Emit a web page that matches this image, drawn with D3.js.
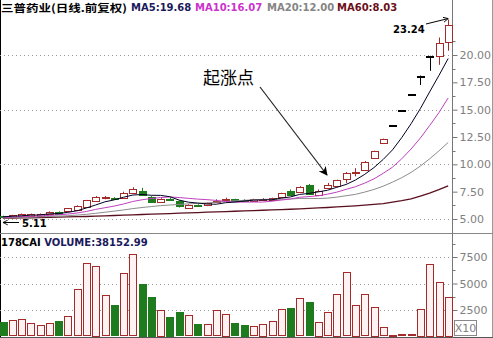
<!DOCTYPE html>
<html>
<head>
<meta charset="utf-8">
<script src="https://cdn.jsdelivr.net/npm/d3@7"></script>
<style>
  body { margin: 0; background: #fff; }
  svg { display: block; }
</style>
</head>
<body>
<svg id="chart"></svg>
<script>
var W = 493, H = 338;

// daily candles
var opens  = [5.25,5.18,5.27,5.30,5.30,5.43,5.65,5.67,5.82,6.03,6.60,6.93,6.92,6.95,7.35,7.60,7.05,6.55,6.86,6.65,
              6.00,6.25,6.22,6.60,6.72,6.80,6.75,6.66,6.75,6.75,6.95,7.60,7.45,8.10,7.20,7.85,8.00,8.70,9.20,9.50,
              10.55,11.95,13.60,14.97,16.47,18.12,19.93,19.90,21.20];
var closes = [5.15,5.33,5.45,5.45,5.45,5.65,5.50,5.98,6.19,6.71,7.00,6.97,6.88,7.40,7.70,7.25,6.62,6.85,6.80,6.15,
              6.30,6.20,6.42,6.68,6.85,6.60,6.66,6.80,6.86,6.90,7.35,7.20,7.95,7.30,7.60,8.10,8.55,9.25,9.30,10.20,
              11.20,12.30,13.60,14.97,16.47,18.12,19.93,21.10,22.75];
var highs  = [5.30,5.38,5.50,5.50,5.50,5.70,5.70,6.00,6.25,6.75,7.10,7.10,7.00,7.50,7.90,7.85,7.10,6.90,6.95,6.70,
              6.35,6.35,6.50,6.80,6.95,6.85,6.80,6.85,6.90,6.95,7.40,7.70,8.00,8.20,7.70,8.30,8.60,9.30,9.65,10.30,
              11.25,12.35,13.60,14.97,16.47,18.12,19.93,21.60,23.24];
var lows   = [5.11,5.14,5.22,5.25,5.25,5.40,5.45,5.62,5.78,6.00,6.55,6.80,6.80,6.90,7.30,7.20,6.50,6.50,6.70,6.05,
              5.95,6.10,6.18,6.55,6.65,6.55,6.60,6.60,6.70,6.70,6.90,7.10,7.40,7.20,7.10,7.80,7.90,8.30,8.90,9.45,
              10.50,11.90,13.60,14.97,16.47,17.26,18.55,19.10,20.40];
// volume in units of 10
var volumes = [1360,1520,1620,1270,1080,1240,1460,1930,4480,6920,6670,3900,2950,5970,7780,4980,3750,2540,1840,2290,
               2000,1170,1140,2480,2160,1270,1110,990,1180,1460,2590,2690,3630,3250,1370,2310,4030,6040,3000,3970,
               2830,870,140,230,230,2620,6860,5160,3770];
var ma5  = [5.20,5.25,5.30,5.35,5.37,5.47,5.50,5.61,5.75,6.01,6.28,6.57,6.75,6.99,7.19,7.24,7.17,7.16,7.04,6.73,
            6.54,6.46,6.37,6.35,6.49,6.55,6.64,6.72,6.75,6.76,6.91,7.02,7.25,7.34,7.48,7.63,7.90,8.16,8.56,9.08,
            9.70,10.45,11.32,12.45,13.71,15.09,16.62,18.12,19.68];
var ma10 = [5.15,5.18,5.22,5.25,5.28,5.33,5.38,5.45,5.55,5.69,5.88,6.03,6.18,6.37,6.60,6.76,6.87,6.96,7.02,6.96,
            6.89,6.82,6.77,6.70,6.61,6.55,6.55,6.55,6.55,6.63,6.73,6.83,6.99,7.05,7.12,7.27,7.46,7.71,7.95,8.28,
            8.67,9.18,9.74,10.51,11.40,12.40,13.54,14.72,16.07];
var ma20 = [5.10,5.12,5.15,5.17,5.20,5.23,5.26,5.30,5.36,5.43,5.52,5.62,5.72,5.83,5.95,6.05,6.14,6.22,6.28,6.33,
            6.38,6.43,6.47,6.54,6.60,6.66,6.71,6.76,6.79,6.80,6.81,6.83,6.88,6.88,6.87,6.91,7.00,7.13,7.25,7.46,
            7.70,8.00,8.37,8.78,9.26,9.84,10.50,11.22,12.00];
var ma60 = [5.08,5.09,5.10,5.11,5.13,5.15,5.17,5.19,5.21,5.23,5.26,5.29,5.32,5.35,5.38,5.41,5.44,5.47,5.50,5.53,
            5.56,5.59,5.62,5.65,5.68,5.71,5.74,5.77,5.80,5.83,5.86,5.89,5.93,5.97,6.01,6.05,6.10,6.15,6.20,6.26,
            6.33,6.41,6.55,6.68,6.85,7.10,7.37,7.68,8.03];

var priceTicks = [5, 7.5, 10, 12.5, 15, 17.5, 20];
var priceGrid = [5, 10, 15, 20];
var volTicks = [2500, 5000, 7500];

var axisX = 452;
var svg = d3.select("#chart").attr("width", W).attr("height", H);

var x = d3.scaleBand().domain(d3.range(closes.length)).range([-0.5, 451.5]).paddingInner(0.28);
var y = d3.scaleLinear().domain([5, 20]).range([219, 55]);
var yv = d3.scaleLinear().domain([0, 7500]).range([336.5, 257]);
var cx = function (i) { return x(i) + x.bandwidth() / 2; };

var red = "#a52a2a", green = "#1e7b1e";
function candleColor(i) {
  if (closes[i] > opens[i]) return red;
  if (closes[i] < opens[i]) return green;
  return "#000";
}

// frame and panel lines
svg.append("line").attr("x1", 0.5).attr("x2", 0.5).attr("y1", 0).attr("y2", H).attr("stroke", "#000");
svg.append("line").attr("x1", W - 0.5).attr("x2", W - 0.5).attr("y1", 0).attr("y2", H).attr("stroke", "#999");
svg.append("line").attr("x1", 0).attr("x2", W).attr("y1", H - 0.5).attr("y2", H - 0.5).attr("stroke", "#555");
svg.append("line").attr("x1", 0).attr("x2", W).attr("y1", 233.5).attr("y2", 233.5).attr("stroke", "#888");
svg.append("line").attr("x1", axisX + 0.5).attr("x2", axisX + 0.5).attr("y1", 0).attr("y2", H).attr("stroke", "#777");

// dotted grid
svg.append("g").selectAll("line").data(priceGrid).enter().append("line")
  .attr("x1", 0).attr("x2", axisX)
  .attr("y1", function (d) { return Math.round(y(d)) + 0.5; })
  .attr("y2", function (d) { return Math.round(y(d)) + 0.5; })
  .attr("stroke", "#999").attr("stroke-dasharray", "1,3");
svg.append("g").selectAll("line").data(volTicks).enter().append("line")
  .attr("x1", 0).attr("x2", axisX)
  .attr("y1", function (d) { return Math.round(yv(d)) + 0.5; })
  .attr("y2", function (d) { return Math.round(yv(d)) + 0.5; })
  .attr("stroke", "#999").attr("stroke-dasharray", "1,3");

// right price axis
var pAxis = svg.append("g").attr("transform", "translate(" + (axisX + 0.5) + ",0)");
pAxis.call(d3.axisRight(y).tickValues(priceTicks).tickSize(5).tickPadding(2)
  .tickFormat(d3.format(".2f")))
  .call(function (g) { g.select(".domain").remove(); })
  .call(function (g) {
    g.selectAll(".tick line").attr("stroke", "#777");
    g.selectAll(".tick text").attr("fill", "#808080").style("font", "11px 'DejaVu Sans'");
  });
pAxis.selectAll(".minor").data(priceTicks.map(function (d) { return d + 1.25; })).enter()
  .append("line").attr("class", "minor")
  .attr("x1", 0).attr("x2", 3)
  .attr("y1", function (d) { return Math.round(y(d)) + 0.5; })
  .attr("y2", function (d) { return Math.round(y(d)) + 0.5; })
  .attr("stroke", "#777");

// right volume axis
var vAxis = svg.append("g").attr("transform", "translate(" + (axisX + 0.5) + ",0)");
vAxis.call(d3.axisRight(yv).tickValues(volTicks).tickSize(5).tickPadding(2).tickFormat(d3.format("d")))
  .call(function (g) { g.select(".domain").remove(); })
  .call(function (g) {
    g.selectAll(".tick line").attr("stroke", "#777");
    g.selectAll(".tick text").attr("fill", "#808080").style("font", "11px 'DejaVu Sans'");
  });
vAxis.selectAll(".minor").data([3750, 6250, 8750]).enter()
  .append("line").attr("class", "minor")
  .attr("x1", 0).attr("x2", 3)
  .attr("y1", function (d) { return Math.round(yv(d)) + 0.5; })
  .attr("y2", function (d) { return Math.round(yv(d)) + 0.5; })
  .attr("stroke", "#777");
svg.append("rect").attr("x", 454.5).attr("y", 320.5).attr("width", 22).attr("height", 15)
  .attr("fill", "none").attr("stroke", "#888");
svg.append("text").attr("x", 465.5).attr("y", 332).attr("text-anchor", "middle")
  .attr("fill", "#808080").style("font", "11px 'DejaVu Sans'").text("X10");

// moving averages
var maSets = [
  { vals: ma60, color: "#5a0f1e", width: 1.3 },
  { vals: ma20, color: "#8c8c8c", width: 1 },
  { vals: ma10, color: "#c040c0", width: 1 },
  { vals: ma5,  color: "#000022", width: 1 }
];
var maLine = function (vals) {
  return d3.line().x(function (d, i) { return cx(i); }).y(function (d) { return y(d); })(vals);
};

// candles
var candles = svg.append("g").selectAll("g").data(d3.range(closes.length)).enter().append("g");
candles.append("line")
  .attr("x1", function (i) { return Math.round(cx(i)) + 0.5; })
  .attr("x2", function (i) { return Math.round(cx(i)) + 0.5; })
  .attr("y1", function (i) { return y(highs[i]); })
  .attr("y2", function (i) { return y(lows[i]); })
  .attr("stroke", candleColor);
candles.append("rect")
  .attr("x", function (i) { return Math.round(x(i)) + 0.5; })
  .attr("width", Math.round(x.bandwidth()))
  .attr("y", function (i) { return Math.round(y(Math.max(opens[i], closes[i]))) + 0.5; })
  .attr("height", function (i) {
    return Math.max(1, Math.round(y(Math.min(opens[i], closes[i])) - y(Math.max(opens[i], closes[i]))));
  })
  .attr("fill", function (i) { return closes[i] < opens[i] ? green : "#fff"; })
  .attr("stroke", candleColor);

svg.append("g").selectAll("path").data(maSets).enter().append("path")
  .attr("d", function (d) { return maLine(d.vals); })
  .attr("fill", "none")
  .attr("stroke", function (d) { return d.color; })
  .attr("stroke-width", function (d) { return d.width; });

// volume bars
svg.append("g").selectAll("rect").data(volumes).enter().append("rect")
  .attr("x", function (d, i) { return Math.round(x(i)) + 0.5; })
  .attr("width", Math.round(x.bandwidth()))
  .attr("y", function (d) { return Math.round(yv(d)) + 0.5; })
  .attr("height", function (d) { return Math.max(1, Math.round(yv(0) - yv(d)) - 1); })
  .attr("fill", function (d, i) { return closes[i] < opens[i] ? green : "#fff2f2"; })
  .attr("stroke", function (d, i) { return closes[i] < opens[i] ? green : red; });

// header texts
var bold10 = "bold 10px 'DejaVu Sans'";
svg.append("text").attr("x", 1).attr("y", 12).attr("fill", "#000")
  .attr("textLength", 126).attr("lengthAdjust", "spacingAndGlyphs")
  .style("font", "bold 10.5px 'Noto Sans CJK SC'").text("三普药业(日线.前复权)");
var maLabels = [
  { x: 131, text: "MA5:19.68", color: "#1a1a5c" },
  { x: 195, text: "MA10:16.07", color: "#cc33cc" },
  { x: 267, text: "MA20:12.00", color: "#858585" },
  { x: 337, text: "MA60:8.03", color: "#6b0f1a" }
];
svg.append("g").selectAll("text").data(maLabels).enter().append("text")
  .attr("x", function (d) { return d.x; }).attr("y", 11)
  .attr("fill", function (d) { return d.color; })
  .style("font", bold10).text(function (d) { return d.text; });

var vh = svg.append("text").attr("x", 1).attr("y", 246).style("font", bold10);
vh.append("tspan").attr("fill", "#000").text("178CAI ");
vh.append("tspan").attr("fill", "#1a1a5c").text("VOLUME:38152.99");

// annotations
var defs = svg.append("defs");
defs.append("marker").attr("id", "solid").attr("viewBox", "0 0 10 10")
  .attr("refX", 9).attr("refY", 5).attr("markerWidth", 9).attr("markerHeight", 9)
  .attr("orient", "auto").attr("markerUnits", "userSpaceOnUse")
  .append("path").attr("d", "M0,0 L10,5 L0,10 L3,5 Z").attr("fill", "#000");
defs.append("marker").attr("id", "open").attr("viewBox", "0 0 10 10")
  .attr("refX", 9).attr("refY", 5).attr("markerWidth", 6).attr("markerHeight", 6)
  .attr("orient", "auto").attr("markerUnits", "userSpaceOnUse")
  .append("path").attr("d", "M1,1 L9,5 L1,9").attr("fill", "none").attr("stroke", "#000").attr("stroke-width", 1.5);

svg.append("text").attr("x", 203).attr("y", 84).attr("fill", "#000")
  .style("font", "17px 'Noto Sans CJK SC'").text("起涨点");
svg.append("line").attr("x1", 260).attr("y1", 87).attr("x2", 327).attr("y2", 175)
  .attr("stroke", "#222").attr("stroke-width", 1.2).attr("marker-end", "url(#solid)");

svg.append("text").attr("x", 393).attr("y", 33).attr("fill", "#000").style("font", bold10).text("23.24");
svg.append("line").attr("x1", 426).attr("y1", 24).attr("x2", cx(48)).attr("y2", y(23.24) - 1)
  .attr("stroke", "#000").attr("marker-end", "url(#open)");

svg.append("text").attr("x", 22).attr("y", 227).attr("fill", "#000").style("font", bold10).text("5.11");
svg.append("line").attr("x1", 19).attr("y1", 222.5).attr("x2", 3).attr("y2", 222.5)
  .attr("stroke", "#000").attr("marker-end", "url(#open)");
</script>
</body>
</html>
